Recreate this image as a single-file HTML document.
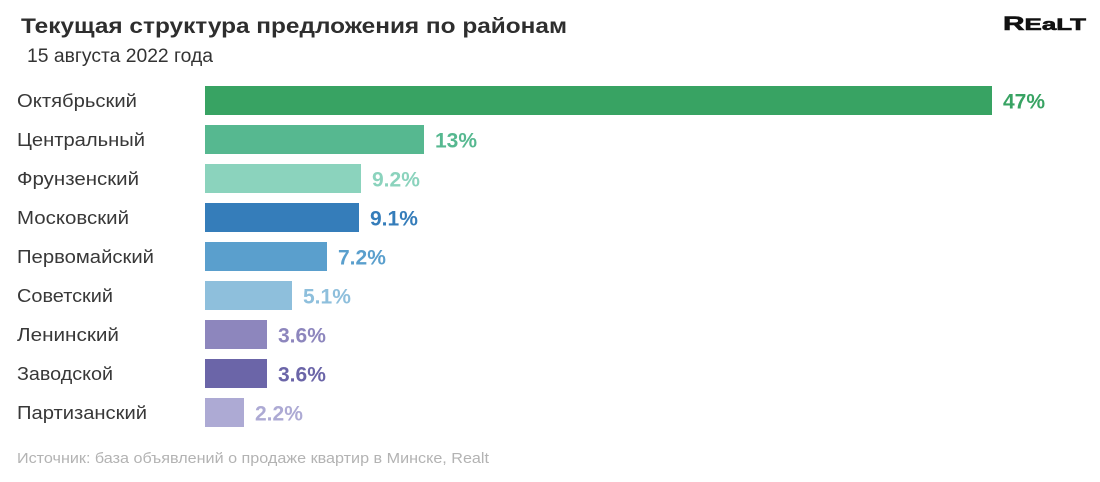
<!DOCTYPE html>
<html>
<head>
<meta charset="utf-8">
<style>
html,body{margin:0;padding:0;background:#fff;}
svg{display:block;}
text{font-family:"Liberation Sans","DejaVu Sans",sans-serif;}
</style>
</head>
<body>
<svg width="1100" height="482" viewBox="0 0 1100 482" xmlns="http://www.w3.org/2000/svg">
<rect width="1100" height="482" fill="#fff"/>
<text x="21" y="33" font-size="21" font-weight="bold" fill="#2e2e2e" textLength="546" lengthAdjust="spacingAndGlyphs">Текущая структура предложения по районам</text>
<text x="27" y="62" font-size="19" fill="#333" textLength="186" lengthAdjust="spacingAndGlyphs">15 августа 2022 года</text>

<text x="1003" y="30" font-weight="900" fill="#111" stroke="#111" stroke-width="0.6" textLength="83" lengthAdjust="spacingAndGlyphs"><tspan font-size="19">R</tspan><tspan font-size="16.5">EaLT</tspan></text>

<g font-size="18" fill="#383838">
<text x="17" y="107" textLength="120" lengthAdjust="spacingAndGlyphs">Октябрьский</text>
<text x="17" y="146" textLength="128" lengthAdjust="spacingAndGlyphs">Центральный</text>
<text x="17" y="185" textLength="122" lengthAdjust="spacingAndGlyphs">Фрунзенский</text>
<text x="17" y="224" textLength="112" lengthAdjust="spacingAndGlyphs">Московский</text>
<text x="17" y="263" textLength="137" lengthAdjust="spacingAndGlyphs">Первомайский</text>
<text x="17" y="302" textLength="96" lengthAdjust="spacingAndGlyphs">Советский</text>
<text x="17" y="341" textLength="102" lengthAdjust="spacingAndGlyphs">Ленинский</text>
<text x="17" y="380" textLength="96" lengthAdjust="spacingAndGlyphs">Заводской</text>
<text x="17" y="419" textLength="130" lengthAdjust="spacingAndGlyphs">Партизанский</text>
</g>

<rect x="205" y="86" width="787" height="29" fill="#38a363"/>
<rect x="205" y="125" width="219" height="29" fill="#56b890"/>
<rect x="205" y="164" width="156" height="29" fill="#8bd3bd"/>
<rect x="205" y="203" width="154" height="29" fill="#357dba"/>
<rect x="205" y="242" width="122" height="29" fill="#5a9fcd"/>
<rect x="205" y="281" width="87" height="29" fill="#8ebfdc"/>
<rect x="205" y="320" width="62" height="29" fill="#8d86bd"/>
<rect x="205" y="359" width="62" height="29" fill="#6b65a8"/>
<rect x="205" y="398" width="39" height="29" fill="#adaad4"/>

<g font-size="21" font-weight="bold">
<text x="1003" y="108.5" fill="#38a363">47%</text>
<text x="435" y="147.5" fill="#56b890">13%</text>
<text x="372" y="186.5" fill="#8bd3bd">9.2%</text>
<text x="370" y="225.5" fill="#357dba">9.1%</text>
<text x="338" y="264.5" fill="#5a9fcd">7.2%</text>
<text x="303" y="303.5" fill="#8ebfdc">5.1%</text>
<text x="278" y="342.5" fill="#8d86bd">3.6%</text>
<text x="278" y="381.5" fill="#6b65a8">3.6%</text>
<text x="255" y="420.5" fill="#adaad4">2.2%</text>
</g>

<text x="17" y="463" font-size="15" fill="#b3b3b3" textLength="472" lengthAdjust="spacingAndGlyphs">Источник: база объявлений о продаже квартир в Минске, Realt</text>
</svg>
</body>
</html>
